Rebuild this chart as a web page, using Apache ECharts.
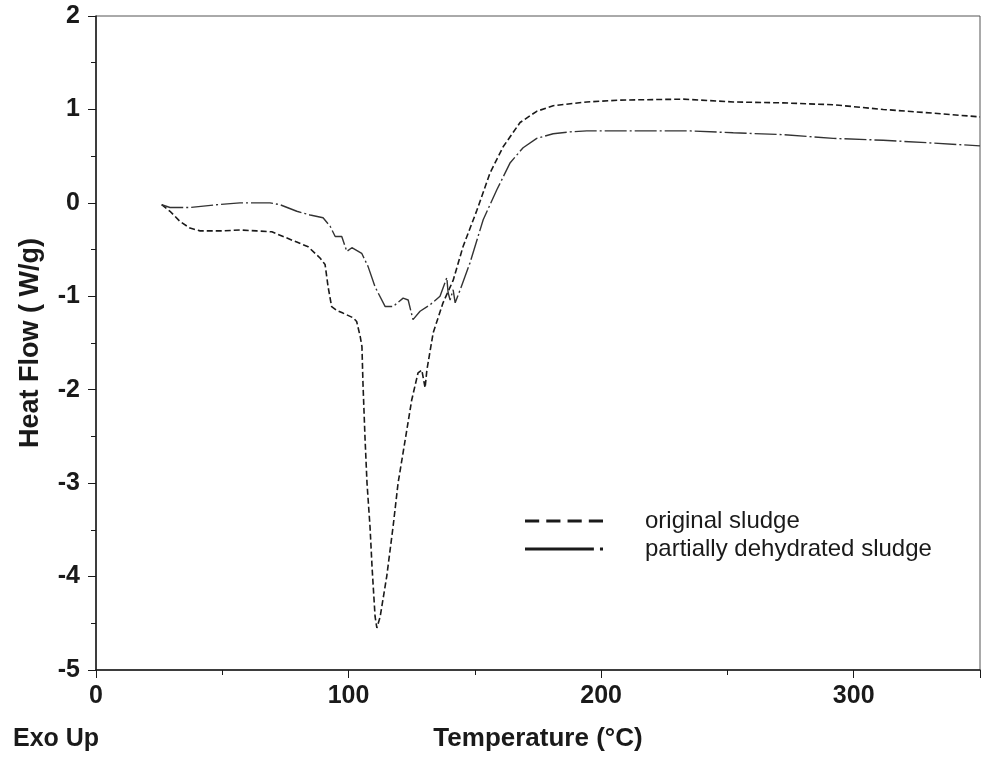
<!DOCTYPE html>
<html>
<head>
<meta charset="utf-8">
<title>DSC heat flow</title>
<script src="https://cdn.jsdelivr.net/npm/echarts@6/dist/echarts.min.js"></script>
<style>
  html, body { margin: 0; padding: 0; background: #fff; }
  #main { width: 987px; height: 760px; }
</style>
</head>
<body>
<div id="main"></div>
<script>
// original sludge (dashed curve)
var tempOriginal = [26.0, 29.3, 33.3, 37.2, 41.2, 50.3, 57.0, 63.6, 69.6, 74.1, 79.5, 84.0, 88.7, 90.7,
  91.9, 93.3, 95.3, 97.8, 101.8, 103.2, 104.6, 105.3, 105.7, 106.5, 107.3, 108.5, 109.3, 110.5, 111.2,
  112.5, 115.1, 117.6, 119.6, 122.4, 125.0, 127.5, 129.0, 130.3, 131.0, 133.5, 137.4, 141.4, 145.3,
  150.8, 156.0, 161.2, 167.9, 174.5, 181.0, 194.3, 207.5, 232.5, 252.3, 272.1, 291.9, 311.7, 331.5, 350];
var flowOriginal = [-0.02, -0.09, -0.20, -0.27, -0.30, -0.30, -0.29, -0.30, -0.31, -0.36, -0.42, -0.47, -0.59, -0.66,
  -0.90, -1.11, -1.15, -1.18, -1.23, -1.27, -1.43, -1.54, -1.93, -2.51, -3.00, -3.47, -3.90, -4.43, -4.55,
  -4.43, -4.00, -3.47, -3.00, -2.54, -2.11, -1.82, -1.79, -1.98, -1.79, -1.39, -1.07, -0.83, -0.47,
  -0.08, 0.32, 0.60, 0.86, 0.98, 1.04, 1.08, 1.10, 1.11, 1.08, 1.07, 1.05, 1.00, 0.96, 0.92];

// partially dehydrated sludge (dash-dot curve)
var tempPartial = [26.0, 29.3, 37.2, 47.8, 57.0, 68.9, 72.9, 79.5, 84.8, 89.9, 92.7, 94.7, 97.3, 99.3,
  101.3, 105.2, 107.7, 110.5, 114.5, 117.6, 121.6, 123.6, 125.5, 128.3, 132.3, 136.2, 138.9, 139.4,
  140.2, 141.4, 142.2, 144.2, 148.1, 153.3, 158.7, 164.0, 169.1, 174.5, 181.0, 187.7, 194.3, 207.5,
  235.2, 252.3, 272.1, 291.9, 311.7, 331.5, 350];
var flowPartial = [-0.02, -0.05, -0.05, -0.02, 0.00, 0.00, -0.02, -0.09, -0.13, -0.16, -0.25, -0.36, -0.36, -0.52,
  -0.48, -0.54, -0.68, -0.90, -1.11, -1.11, -1.02, -1.04, -1.25, -1.16, -1.09, -1.00, -0.80, -0.96,
  -1.04, -0.93, -1.07, -0.93, -0.64, -0.18, 0.14, 0.43, 0.59, 0.69, 0.74, 0.76, 0.77, 0.77,
  0.77, 0.75, 0.73, 0.69, 0.67, 0.64, 0.61];

var seriesNames = ['original sludge', 'partially dehydrated sludge'];

function pairs(xs, ys) {
  var out = [];
  for (var i = 0; i < xs.length; i++) out.push([xs[i], ys[i]]);
  return out;
}

var font = 'Liberation Sans, Arial, sans-serif';
var ink = '#1a1a1a';

var myChart = echarts.init(document.getElementById('main'));

var option = {
  animation: false,
  backgroundColor: '#fff',
  grid: {
    left: 96, right: 7, top: 16, bottom: 90,
    show: true,
    borderColor: '#555',
    borderWidth: 1
  },
  legend: {
    orient: 'vertical',
    left: 520,
    top: 504,
    itemWidth: 78,
    itemHeight: 3,
    itemGap: 4,
    symbolKeepAspect: false,
    textStyle: { fontFamily: font, fontSize: 24, color: ink, padding: [0, 0, 0, 37] },
    data: [
      { name: seriesNames[0], icon: 'path://M0,0h14v3h-14z M21,0h14v3h-14z M42,0h14v3h-14z M63,0h14v3h-14z' },
      { name: seriesNames[1], icon: 'path://M0,0h68v3h-68z M74,0h3v3h-3z' }
    ]
  },
  xAxis: {
    type: 'value',
    min: 0,
    max: 350,
    interval: 100,
    name: 'Temperature (°C)',
    nameLocation: 'middle',
    nameGap: 56,
    nameTextStyle: { fontFamily: font, fontSize: 26, fontWeight: 'bold', color: ink },
    axisLine: { show: true, onZero: false, lineStyle: { color: ink, width: 1.5 } },
    axisTick: { show: true, length: 8, lineStyle: { color: ink } },
    minorTick: { show: true, splitNumber: 2, length: 5, lineStyle: { color: ink } },
    splitLine: { show: false },
    axisLabel: {
      fontFamily: font, fontSize: 25, fontWeight: 'bold', color: ink, margin: 14,
      formatter: function (v) { return v % 100 === 0 ? String(v) : ''; }
    }
  },
  yAxis: {
    type: 'value',
    min: -5,
    max: 2,
    interval: 1,
    name: 'Heat Flow ( W/g)',
    nameLocation: 'middle',
    nameGap: 52,
    nameTextStyle: { fontFamily: font, fontSize: 27, fontWeight: 'bold', color: ink },
    axisLine: { show: true, onZero: false, lineStyle: { color: ink, width: 1.5 } },
    axisTick: { show: true, length: 8, lineStyle: { color: ink } },
    minorTick: { show: true, splitNumber: 2, length: 5, lineStyle: { color: ink } },
    splitLine: { show: false },
    axisLabel: { fontFamily: font, fontSize: 25, fontWeight: 'bold', color: ink, margin: 16 }
  },
  graphic: [
    {
      type: 'text',
      left: 13,
      top: 727,
      style: { text: 'Exo Up', fontFamily: font, fontSize: 25, fontWeight: 'bold', fill: ink }
    }
  ],
  series: [
    {
      name: seriesNames[0],
      type: 'line',
      showSymbol: false,
      data: pairs(tempOriginal, flowOriginal),
      itemStyle: { color: ink },
      lineStyle: { color: ink, width: 1.6, type: [6, 3] }
    },
    {
      name: seriesNames[1],
      type: 'line',
      showSymbol: false,
      data: pairs(tempPartial, flowPartial),
      itemStyle: { color: ink },
      lineStyle: { color: '#333', width: 1.4, type: [22, 3, 2, 3] }
    }
  ]
};

myChart.setOption(option);
</script>
</body>
</html>
